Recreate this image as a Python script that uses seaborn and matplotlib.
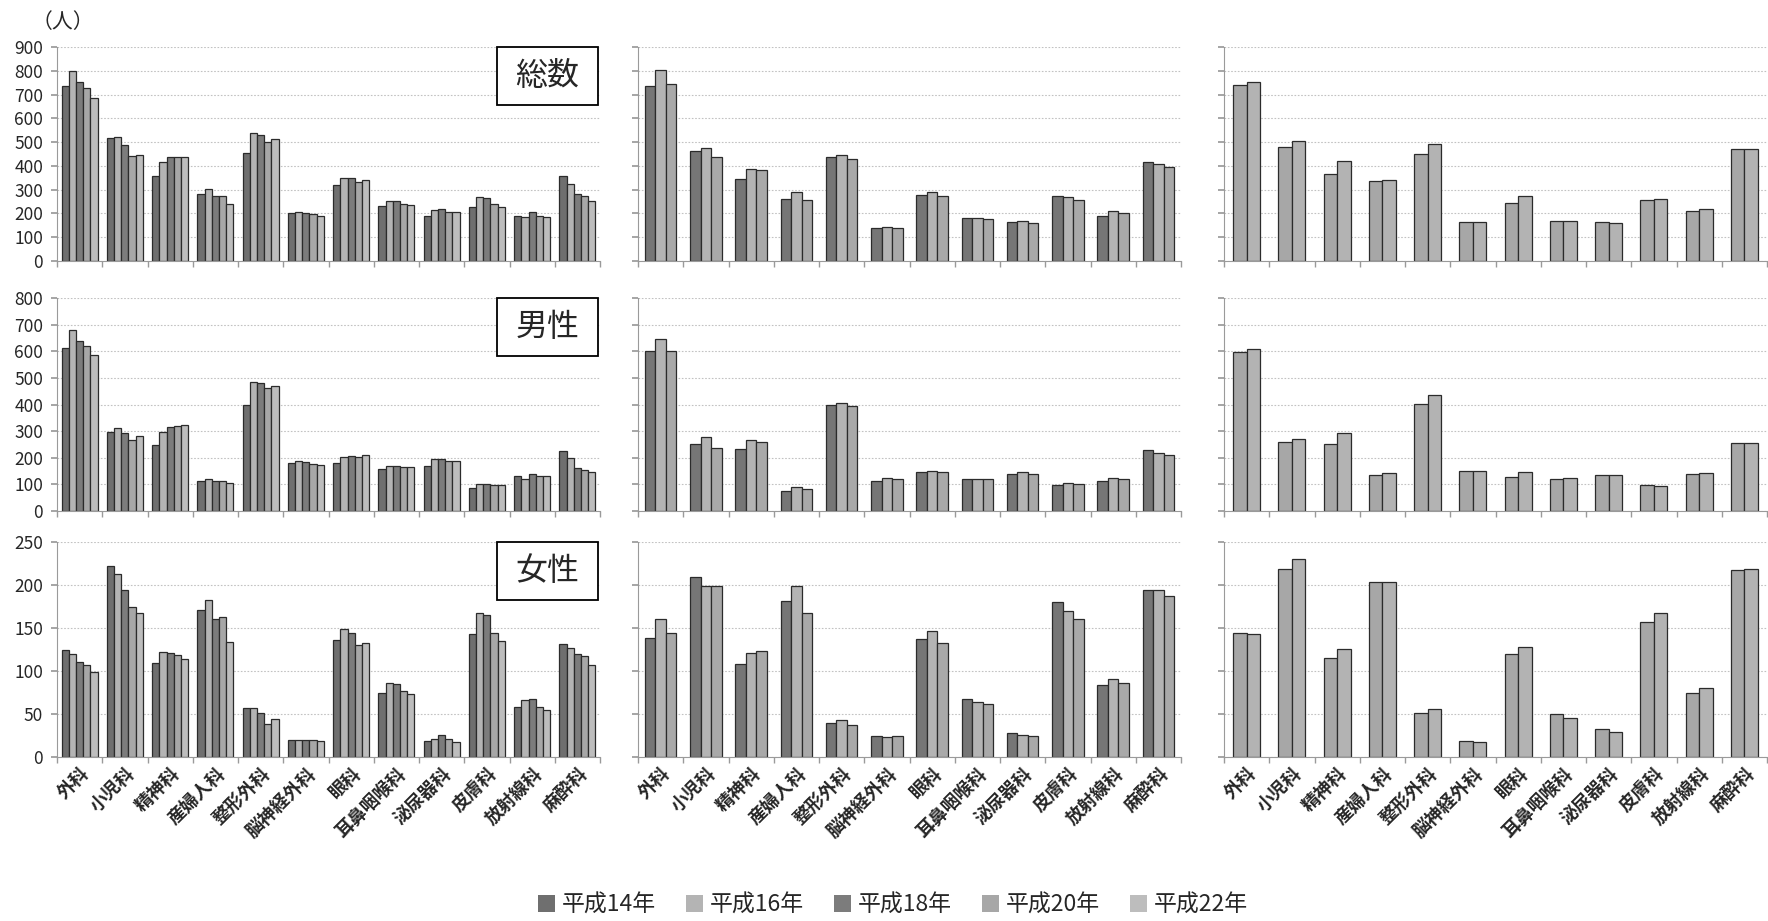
import numpy as np
import pandas as pd
import matplotlib
matplotlib.use("Agg")
import matplotlib.pyplot as plt
import seaborn as sns
from matplotlib.patches import Patch, Rectangle

sns.set_theme(style="white")
plt.rcParams["font.family"] = ["Noto Sans CJK JP", "DejaVu Sans"]

# 診療科
categories = ["外科", "小児科", "精神科", "産婦人科", "整形外科", "脳神経外科",
              "眼科", "耳鼻咽喉科", "泌尿器科", "皮膚科", "放射線科", "麻酔科"]
years = ["平成14年", "平成16年", "平成18年", "平成20年", "平成22年"]
year_colors = ["#6f6f6f", "#b4b4b4", "#7c7c7c", "#a7a7a7", "#bdbdbd"]

# 左列: 平成14年〜22年 (総数・男性・女性)
a_total = [
    [736, 519, 358, 283, 456, 202, 318, 231, 188, 229, 188, 357],
    [798, 522, 418, 301, 538, 208, 350, 252, 214, 268, 186, 324],
    [752, 486, 437, 272, 530, 203, 350, 251, 218, 264, 206, 282],
    [727, 441, 438, 272, 499, 196, 334, 240, 207, 240, 188, 272],
    [686, 446, 437, 240, 511, 191, 342, 237, 205, 229, 185, 254],
]
a_male = [
    [613, 297, 249, 112, 399, 182, 182, 156, 169, 87, 131, 226],
    [678, 310, 297, 120, 484, 188, 202, 168, 194, 102, 120, 199],
    [640, 293, 317, 113, 480, 184, 207, 168, 194, 102, 140, 162],
    [618, 265, 320, 111, 461, 176, 204, 166, 187, 98, 131, 155],
    [586, 280, 324, 107, 469, 173, 212, 166, 189, 96, 131, 148],
]
a_female = [
    [125, 222, 109, 171, 57, 20, 136, 75, 19, 143, 58, 131],
    [120, 213, 122, 182, 57, 20, 149, 86, 21, 168, 66, 127],
    [111, 194, 121, 161, 51, 20, 144, 85, 26, 165, 67, 120],
    [107, 175, 119, 163, 38, 20, 130, 77, 21, 144, 58, 118],
    [99, 168, 114, 134, 44, 19, 132, 73, 17, 135, 55, 107],
]

# 中央列 (3系列)
b_total = [
    [737, 462, 345, 261, 437, 137, 279, 181, 164, 274, 189, 418],
    [804, 477, 385, 290, 444, 144, 290, 181, 168, 268, 210, 408],
    [743, 438, 382, 255, 427, 137, 275, 178, 161, 256, 202, 394],
]
b_male = [
    [600, 252, 234, 76, 400, 114, 146, 119, 139, 99, 111, 230],
    [645, 278, 265, 90, 404, 124, 150, 121, 146, 104, 124, 219],
    [600, 238, 259, 84, 394, 119, 146, 121, 139, 100, 121, 212],
]
b_female = [
    [138, 209, 108, 181, 40, 24, 137, 67, 28, 180, 84, 194],
    [161, 199, 121, 199, 43, 23, 146, 64, 26, 170, 91, 194],
    [144, 199, 123, 168, 37, 24, 133, 62, 25, 161, 86, 187],
]
b_colors = ["#767676", "#b4b4b4", "#a9a9a9"]

# 右列 (2系列)
c_total = [
    [742, 480, 364, 336, 450, 163, 244, 170, 163, 255, 212, 470],
    [754, 503, 420, 341, 493, 163, 272, 167, 160, 262, 219, 470],
]
c_male = [
    [598, 260, 250, 137, 401, 149, 128, 121, 135, 99, 139, 257],
    [608, 270, 292, 141, 436, 149, 146, 125, 135, 95, 141, 257],
]
c_female = [
    [144, 219, 115, 203, 51, 19, 120, 50, 32, 157, 75, 217],
    [143, 230, 126, 204, 56, 18, 128, 45, 29, 167, 80, 219],
]
c_colors = ["#a7a7a7", "#b3b3b3"]

row_titles = ["総数", "男性", "女性"]
row_limits = [(900, 100), (800, 100), (250, 50)]

W, H = 1768, 921
fig = plt.figure(figsize=(W / 100, H / 100), dpi=100)

col_left = [57, 638, 1224]
col_width = 543
row_top = [47, 298, 542]
row_height = [214, 213, 215]

columns = [
    ([a_total, a_male, a_female], year_colors, 0.80),
    ([b_total, b_male, b_female], b_colors, 0.70),
    ([c_total, c_male, c_female], c_colors, 0.60),
]

grid_kw = dict(color="#c2c2c2", linestyle=(0, (1.5, 1.5)), linewidth=0.8)
axis_col = "#9a9a9a"

for ci, (panels, colors, width) in enumerate(columns):
    for ri in range(3):
        ax = fig.add_axes([col_left[ci] / W,
                           1 - (row_top[ri] + row_height[ri]) / H,
                           col_width / W, row_height[ri] / H])
        series = panels[ri]
        keys = [f"s{k}" for k in range(len(series))]
        df = pd.DataFrame({
            "科": np.tile(categories, len(series)),
            "系列": np.repeat(keys, len(categories)),
            "人数": np.concatenate(series),
        })
        sns.barplot(data=df, x="科", y="人数", hue="系列", order=categories,
                    hue_order=keys, palette=dict(zip(keys, colors)),
                    width=width, edgecolor="#2b2b2b", linewidth=0.9,
                    saturation=1, errorbar=None, legend=False, ax=ax)
        ymax, step = row_limits[ri]
        ax.set_ylim(0, ymax)
        ax.set_xlim(-0.5, len(categories) - 0.5)
        ax.set_yticks(np.arange(0, ymax + 1, step))
        ax.yaxis.grid(True, **grid_kw)
        ax.set_axisbelow(True)
        ax.set_xlabel("")
        ax.set_ylabel("")
        for s in ["top", "right"]:
            ax.spines[s].set_visible(False)
        for s in ["left", "bottom"]:
            ax.spines[s].set_color(axis_col)
            ax.spines[s].set_linewidth(0.8)
        ax.set_xticks(np.arange(-0.5, len(categories), 1), minor=True)
        ax.tick_params(axis="x", which="major", length=0, pad=5)
        ax.tick_params(axis="x", which="minor", length=4, color=axis_col,
                       direction="out", bottom=True)
        ax.tick_params(axis="y", length=4, color=axis_col, direction="out",
                       left=True, labelsize=12.5, pad=6)
        if ci > 0:
            ax.set_yticklabels([])
        if ri < 2:
            ax.set_xticklabels([])
        else:
            ax.set_xticklabels(categories, rotation=45, ha="right",
                               rotation_mode="anchor", fontsize=13,
                               fontweight="bold")
        if ci == 0:
            ax.add_patch(Rectangle((0.81, 0.73), 0.187, 0.27,
                                   transform=ax.transAxes, fc="white",
                                   ec="black", lw=1.3, zorder=5, clip_on=False))
            ax.text(0.9035, 0.865, row_titles[ri], transform=ax.transAxes,
                    ha="center", va="center", fontsize=23, zorder=6)

fig.text(32 / W, 1 - 22 / H, "（人）", ha="left", va="center", fontsize=15)

handles = [Patch(facecolor=c, edgecolor="none") for c in year_colors]
fig.legend(handles, years, loc="center", bbox_to_anchor=(0.505, 1 - 905 / H),
           ncol=5, frameon=False, fontsize=16.5, handlelength=0.75,
           handleheight=0.75, handletextpad=0.3, columnspacing=1.3)

fig.savefig("out.png", dpi=100, facecolor="white")
